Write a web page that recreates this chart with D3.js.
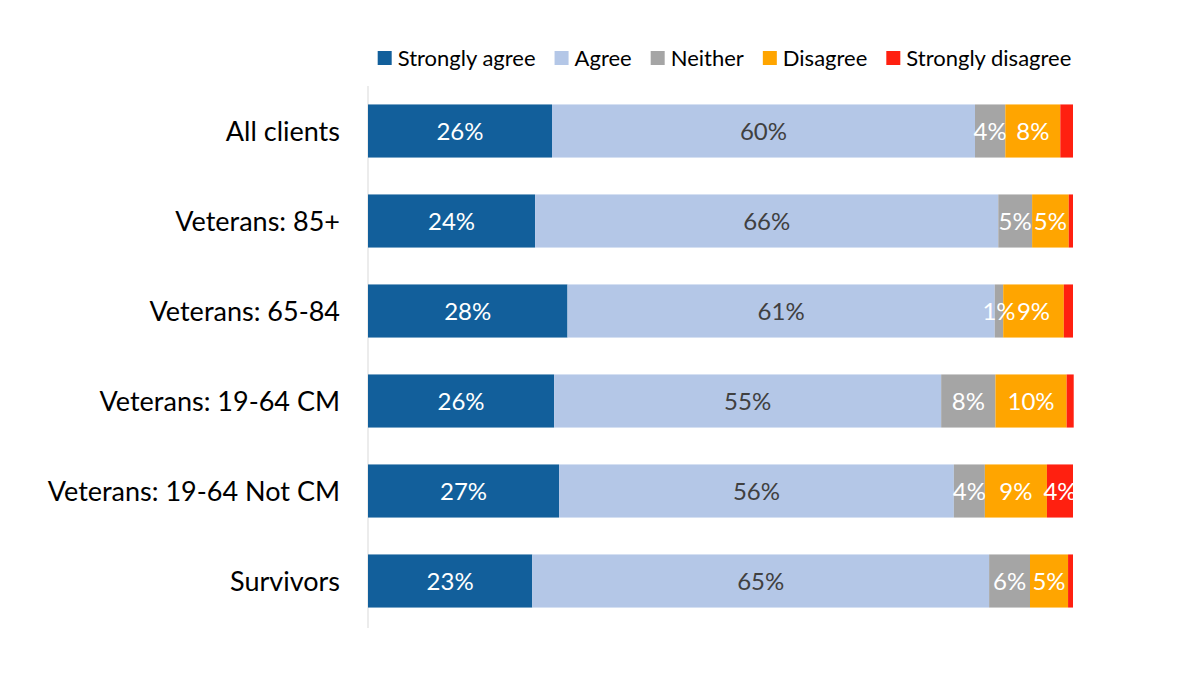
<!DOCTYPE html>
<html><head><meta charset="utf-8">
<script src="https://cdn.jsdelivr.net/npm/d3@7"></script>
<style>body{margin:0;background:#fff}svg{display:block}</style>
</head><body>
<svg id="chart" width="1200" height="675"></svg>
<script>
const categories = ["All clients","Veterans: 85+","Veterans: 65-84","Veterans: 19-64 CM","Veterans: 19-64 Not CM","Survivors"];
const seriesNames = ["Strongly agree","Agree","Neither","Disagree","Strongly disagree"];
const stronglyAgree    = [26.1, 23.7, 28.3, 26.4, 27.1, 23.3];
const agree            = [60.0, 65.7, 60.6, 54.9, 56.0, 64.8];
const neither          = [4.3, 4.8, 1.2, 7.7, 4.4, 5.8];
const disagree         = [7.8, 5.2, 8.6, 10.1, 8.8, 5.4];
const stronglyDisagree = [1.8, 0.6, 1.3, 1.0, 3.7, 0.7];
const colors = ["#125f9b","#b4c7e7","#a5a5a5","#ffa500","#ff2010"];
const labelColors = ["#ffffff","#404040","#ffffff","#ffffff","#ffffff"];
const FONT = "Lato, sans-serif";

const seriesValues = [stronglyAgree, agree, neither, disagree, stronglyDisagree];
const rows = categories.map((c,i)=>{const o={cat:c}; seriesNames.forEach((s,j)=>o[s]=seriesValues[j][i]); return o;});
const stacked = d3.stack().keys(seriesNames)(rows);

const svg = d3.select("#chart");
const x = d3.scaleLinear().domain([0,100]).range([368,1073]);
const y = d3.scaleBand().domain(categories).range([86,626]).paddingInner(0.41).paddingOuter(0.205);

svg.append("line").attr("x1",368).attr("x2",368).attr("y1",86).attr("y2",628)
  .attr("stroke","#d9d9d9").attr("stroke-width",1);

const bars = svg.append("g");
const labels = svg.append("g");
stacked.forEach((s,si)=>{
  bars.append("g").selectAll("rect").data(s).enter().append("rect")
    .attr("x",p=>x(p[0])).attr("width",p=>x(p[1])-x(p[0]))
    .attr("y",p=>y(p.data.cat)).attr("height",y.bandwidth())
    .attr("fill",colors[si]);
  const minShow = si === 4 ? 3 : 1;
  labels.append("g").selectAll("text").data(s.filter(p=>(p[1]-p[0])>=minShow)).enter().append("text")
    .attr("x",p=>(x(p[0])+x(p[1]))/2).attr("y",p=>y(p.data.cat)+y.bandwidth()/2)
    .attr("dy","0.36em").attr("text-anchor","middle")
    .attr("font-family",FONT).attr("font-size",24)
    .attr("fill",labelColors[si])
    .text(p=>Math.round(p[1]-p[0])+"%");
});

svg.selectAll("text.cat").data(categories).enter().append("text").attr("class","cat")
  .attr("x",340).attr("y",d=>y(d)+y.bandwidth()/2).attr("dy","0.36em")
  .attr("text-anchor","end").attr("font-family",FONT).attr("font-size",27).attr("fill","#000")
  .text(d=>d);

const lg = svg.append("g");
let lx = 0;
seriesNames.forEach((s,i)=>{
  const g = lg.append("g").attr("transform",`translate(${lx},0)`);
  g.append("rect").attr("x",0).attr("y",51).attr("width",14).attr("height",14).attr("fill",colors[i]);
  const t = g.append("text").attr("x",20).attr("y",58).attr("dy","0.36em")
    .attr("font-family",FONT).attr("font-size",22).attr("fill","#000").text(s);
  lx += 20 + t.node().getComputedTextLength() + 19;
});
const totalW = lx - 19;
lg.attr("transform",`translate(${(368+1081)/2 - totalW/2},0)`);
</script>
</body></html>
